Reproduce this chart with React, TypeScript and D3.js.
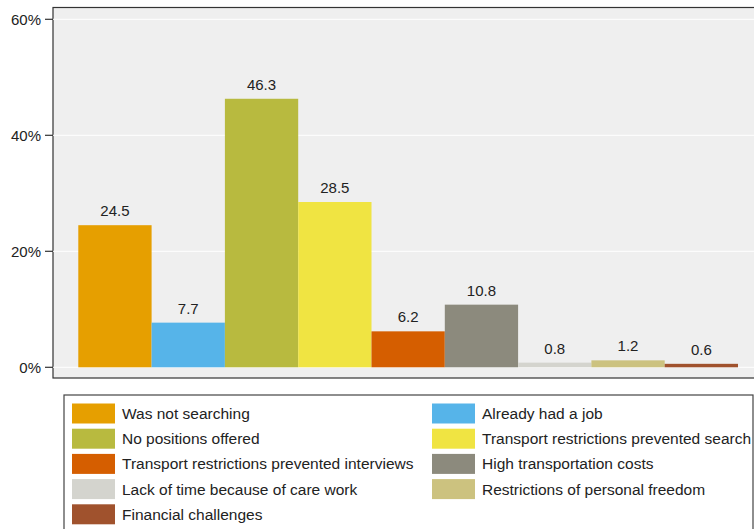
import React from "react";
import * as d3 from "d3";

const categories = [
  "Was not searching",
  "Already had a job",
  "No positions offered",
  "Transport restrictions prevented search",
  "Transport restrictions prevented interviews",
  "High transportation costs",
  "Lack of time because of care work",
  "Restrictions of personal freedom",
  "Financial challenges",
];
const values = [24.5, 7.7, 46.3, 28.5, 6.2, 10.8, 0.8, 1.2, 0.6];
const colors = [
  "#E69F00",
  "#56B4E9",
  "#B8BA3F",
  "#F0E442",
  "#D55E00",
  "#8C8A7D",
  "#D4D4CE",
  "#CCC27F",
  "#A0522D",
];
const yTicks = [0, 20, 40, 60];

export default function App() {
  const W = 754, H = 529;
  const plotL = 53, plotT = 7.5, plotB = 378, plotR = 760;
  const y = d3.scaleLinear().domain([0, 60]).range([367.3, 19.3]);
  const x = d3.scaleBand().domain(categories).range([78.3, 738]).padding(0);
  const font = "Liberation Sans, Arial, sans-serif";
  const rowH = 25.2;
  return (
    <svg width={W} height={H} style={{ position: "absolute", left: 0, top: 0 }} fontFamily={font}>
      <rect x={0} y={0} width={W} height={H} fill="#fff" />
      <rect x={plotL} y={plotT} width={plotR - plotL} height={plotB - plotT} fill="#efefef" stroke="#333" strokeWidth={1.2} />
      {yTicks.map((t) => (
        <g key={t}>
          <line x1={plotL} x2={plotR} y1={y(t)} y2={y(t)} stroke="#fff" strokeWidth={1} />
          <line x1={45} x2={plotL} y1={y(t)} y2={y(t)} stroke="#333" strokeWidth={1.2} />
          <text x={41} y={y(t)} dy="0.35em" textAnchor="end" fontSize={15} fill="#222">{t}%</text>
        </g>
      ))}
      {categories.map((c, i) => (
        <g key={c}>
          <rect x={x(c)!} y={y(values[i])} width={x.bandwidth()} height={y(0) - y(values[i])} fill={colors[i]} />
          <text x={x(c)! + x.bandwidth() / 2} y={y(values[i]) - 9} textAnchor="middle" fontSize={15} fill="#222">{values[i].toFixed(1)}</text>
        </g>
      ))}
      <rect x={64} y={395} width={689} height={150} fill="#fff" stroke="#444" strokeWidth={1.2} />
      {categories.map((c, i) => {
        const col = i % 2;
        const row = Math.floor(i / 2);
        const sx = col === 0 ? 72 : 432;
        const cy = 413.5 + row * rowH;
        return (
          <g key={"l" + c}>
            <rect x={sx} y={cy - 10} width={43} height={20} fill={colors[i]} />
            <text x={sx + 50} y={cy} dy="0.35em" fontSize={15.5} fill="#222">{c}</text>
          </g>
        );
      })}
    </svg>
  );
}
